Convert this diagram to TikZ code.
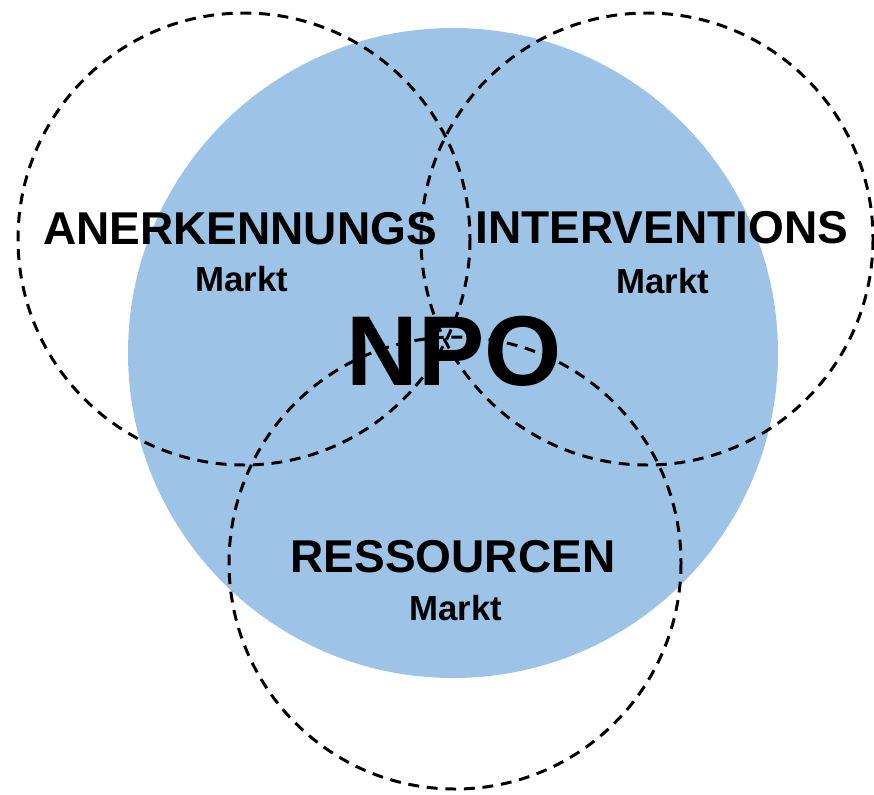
\documentclass[tikz,border=0pt]{standalone}
\usepackage{fontspec}
\setmainfont{Liberation Sans}
\definecolor{npoblue}{RGB}{157,195,230}
\begin{document}
\begin{tikzpicture}[x=0.02cm, y=-0.02cm,
    marketring/.style={draw=black, line width=1.7pt, dash pattern=on 6.2pt off 4.4pt},
    bigword/.style={anchor=base, inner sep=0pt, font=\fontsize{26.2pt}{30pt}\selectfont\bfseries},
    smallword/.style={anchor=base, inner sep=0pt, font=\fontsize{19.8pt}{22pt}\selectfont\bfseries}]
    \useasboundingbox (0,0) rectangle (874,794);

    % --- centres of the organisation and its three markets ---
    \coordinate (npo) at (453,353);
    \coordinate (ane) at (244,239);
    \coordinate (int) at (647,239);
    \coordinate (res) at (455,563);

    \fill[npoblue] (npo) circle (325);

    % --- the three markets ---
    \foreach \m in {ane,int,res} \draw[marketring] (\m) circle (226);

    \node[bigword] (aneword) at (240,244) {ANERKENNUNGS};
    \node[smallword] (anemarkt) at (242,291) {Markt};
    \node[bigword] (intword) at (662,243) {INTERVENTIONS};
    \node[smallword] (intmarkt) at (663,293) {Markt};
    \node[bigword] (resword) at (453,572) {RESSOURCEN};
    \node[smallword] (resmarkt) at (456,620) {Markt};

    \node[anchor=base, inner sep=0pt, font=\fontsize{56.5pt}{60pt}\selectfont\bfseries] (npoword) at (454,385) {NPO};
\end{tikzpicture}
\end{document}
